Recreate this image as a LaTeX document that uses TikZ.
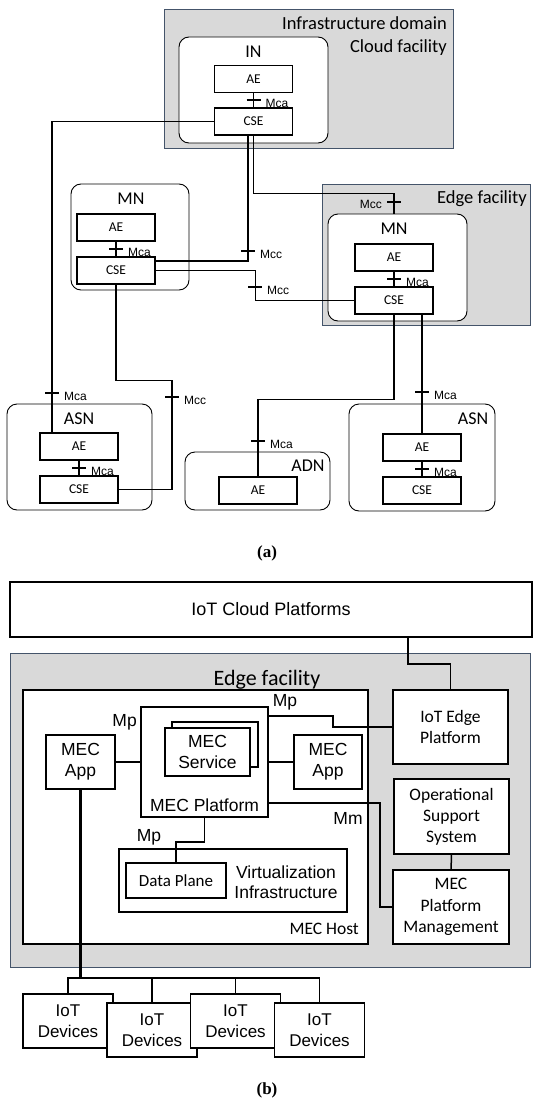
\documentclass[tikz,border=0pt]{standalone}
\usepackage{fontspec}
\setmainfont{Liberation Serif}
\newfontfamily\calfont{Carlito}
\newfontfamily\arfont{Liberation Sans}
\definecolor{facgray}{HTML}{D9D9D9}
\definecolor{facline}{HTML}{44546A}
\tikzset{
  facility/.style={draw=facline, fill=facgray, line width=0.9pt, inner sep=0},
  m2mnode/.style={draw, fill=white, rounded corners=10pt, line width=0.9pt, inner sep=0},
  ent/.style={draw, fill=white, line width=1.4pt, minimum width=78pt, minimum height=27pt,
    inner sep=0, font=\calfont\fontsize{13.5}{15}\selectfont},
  nname/.style={inner sep=0, font=\calfont\fontsize{18}{21}\selectfont},
  reflbl/.style={inner sep=0, font=\arfont\fontsize{12}{14}\selectfont},
  link/.style={line width=1.2pt},
  mecbox/.style={draw, fill=white, line width=1.8pt, inner sep=0, align=center,
    font=\arfont\fontsize{17.5}{21}\selectfont},
  mgmtbox/.style={mecbox, font=\calfont\fontsize{17.5}{21.5}\selectfont},
  mlink/.style={line width=1.5pt},
  buslink/.style={line width=2.4pt},
  plainlbl/.style={inner sep=0, align=center, font=\arfont\fontsize{17.5}{20}\selectfont},
  sublbl/.style={inner sep=0, font=\bfseries\fontsize{17}{20}\selectfont}
}
% reference point mark: tick across a link, label to the right / left
\newcommand{\mref}[3]{\draw[link] (#1-7,#2) -- (#1+7,#2);
  \node[reflbl, anchor=west] at (#1+12,#2+3) {#3};}
\newcommand{\mrefl}[3]{\draw[link] (#1-7,#2) -- (#1+7,#2);
  \node[reflbl, anchor=east] at (#1-12,#2+2) {#3};}

\begin{document}
\begin{tikzpicture}[x=1pt, y=-1pt]
  \useasboundingbox (0,0) rectangle (534,1108);

  %% (a) oneM2M nodes
  \node[facility, minimum width=289pt, minimum height=139pt] (infra) at (308.5,78.5) {};
  \node[inner sep=0, anchor=east, align=right, font=\calfont\fontsize{18.5}{23}\selectfont]
    (infralbl) at (447,36) {Infrastructure domain\\Cloud facility};
  \node[m2mnode, minimum width=149pt, minimum height=106pt] (inN) at (253.5,90) {};
  \node[nname] (inlbl) at (253.5,52) {IN};
  \node[ent] (inAE) at (253.5,79) {AE};
  \node[ent] (inCSE) at (253.5,121.5) {CSE};

  \node[m2mnode, minimum width=118pt, minimum height=106pt] (mnL) at (130,237) {};
  \node[nname] (mnLlbl) at (131,199) {MN};
  \node[ent] (mnLAE) at (116,227.5) {AE};
  \node[ent] (mnLCSE) at (116,270.5) {CSE};

  \node[facility, minimum width=208pt, minimum height=141pt] (edgeA) at (426,254.5) {};
  \node[inner sep=0, anchor=east, font=\calfont\fontsize{18.5}{22}\selectfont]
    (edgeAlbl) at (527,199) {Edge facility};
  \node[m2mnode, minimum width=139pt, minimum height=107pt] (mnR) at (397.5,267.5) {};
  \node[nname] (mnRlbl) at (394,229) {MN};
  \node[ent] (mnRAE) at (394,257.5) {AE};
  \node[ent] (mnRCSE) at (394,300.5) {CSE};

  \node[m2mnode, minimum width=145pt, minimum height=106pt] (asnL) at (79.5,457) {};
  \node[nname] (asnLlbl) at (79,419) {ASN};
  \node[ent] (asnLAE) at (79,446.5) {AE};
  \node[ent] (asnLCSE) at (79,489.5) {CSE};

  \node[m2mnode, minimum width=145pt, minimum height=58pt] (adn) at (257.5,481) {};
  \node[nname] (adnlbl) at (308,466) {ADN};
  \node[ent] (adnAE) at (258,490.5) {AE};

  \node[m2mnode, minimum width=146pt, minimum height=107pt] (asnR) at (422,457.5) {};
  \node[nname] (asnRlbl) at (473,419) {ASN};
  \node[ent] (asnRAE) at (422,447.5) {AE};
  \node[ent] (asnRCSE) at (422,490.5) {CSE};

  % Mca inside the nodes
  \foreach \n in {in,mnL,mnR,asnL,asnR}
    \draw[link] (\n AE) -- (\n CSE);
  \mref{253.5}{100}{Mca}
  \mref{116}{249}{Mca}
  \mref{394}{279}{Mca}
  \mref{79}{468}{Mca}
  \mref{422}{469}{Mca}

  % links between the nodes
  \draw[link] (inCSE.west) -| ([xshift=-27pt]asnLAE.north);
  \mref{52}{393}{Mca}
  \draw[link] ([xshift=-5.5pt]inCSE.south) |- ([yshift=9.5pt]mnLCSE.east);
  \mref{248}{251}{Mcc}
  \draw[link] (inCSE.south) -- ++(0,58) -| (mnR.north -| mnRAE.north);
  \mrefl{394}{202}{Mcc}
  \draw[link] (mnLCSE.east) -- ++(100,0) |- (mnRCSE.west);
  \mref{255}{287}{Mcc}
  \draw[link] (mnLCSE.south) -- ++(0,96) -- ++(56,0) |- (asnLCSE.east);
  \mref{172}{397}{Mcc}
  \draw[link] (mnRCSE.south) -- ++(0,85) -| (adnAE.north);
  \mref{258}{441}{Mca}
  \draw[link] ([xshift=28pt]mnRCSE.south) -- (asnRAE.north);
  \mref{422}{392}{Mca}

  \node[sublbl] (capa) at (267,553) {(a)};

  %% (b) MEC deployment
  \node[mecbox, minimum width=522pt, minimum height=55pt, font=\arfont\fontsize{18}{21}\selectfont]
    (cloud) at (271,609.5) {IoT Cloud Platforms};
  \node[facility, minimum width=520pt, minimum height=314pt] (edgeB) at (270,810) {};
  \node[inner sep=0, font=\calfont\fontsize{22}{26}\selectfont] (edgeBlbl) at (267,680) {Edge facility};

  \node[mecbox, minimum width=345pt, minimum height=254pt] (host) at (195.5,817) {};
  \node[inner sep=0, anchor=east, font=\calfont\fontsize{17.5}{21}\selectfont] (hostlbl) at (359,929) {MEC Host};
  \node[mecbox, minimum width=127pt, minimum height=110pt] (mecPf) at (204.5,762) {};
  \node[plainlbl] (mecPflbl) at (204.5,805) {MEC Platform};
  \node[mecbox, minimum width=86pt, minimum height=45pt] (svcback) at (215,744.5) {};
  \node[mecbox, minimum width=85pt, minimum height=48pt] (svc) at (207.5,752) {MEC\\Service};
  \node[mecbox, minimum width=69pt, minimum height=54pt] (appL) at (80.5,762) {MEC\\App};
  \node[mecbox, minimum width=68pt, minimum height=54pt] (appR) at (328,762) {MEC\\App};
  \node[mecbox, minimum width=228pt, minimum height=63pt] (virt) at (233,880.5) {};
  \node[plainlbl] (virtlbl) at (286,882) {Virtualization\\Infrastructure};
  \node[mgmtbox, minimum width=100pt, minimum height=35pt, font=\calfont\fontsize{17}{20}\selectfont]
    (dplane) at (176,880.5) {Data Plane};

  \node[mgmtbox, minimum width=115pt, minimum height=74pt] (iotEdge) at (450.5,727) {IoT Edge\\Platform};
  \node[mgmtbox, minimum width=115pt, minimum height=75pt, font=\calfont\fontsize{17.5}{21}\selectfont]
    (oss) at (451.5,816.5) {Operational\\Support\\System};
  \node[mgmtbox, minimum width=116pt, minimum height=74pt] (mpm) at (451,907) {MEC\\Platform\\Management};

  \draw[mlink] ([xshift=137pt]cloud.south) -- ++(0,26) -| (iotEdge.north);
  \draw[mlink] (appL.east) -- (mecPf.west);
  \draw[mlink] (mecPf.east) -- (appR.west);
  \draw[mlink] ([yshift=46pt]mecPf.east) -- ++(64,0) |- (iotEdge.west);
  \draw[mlink] ([yshift=-41pt]mecPf.east) -- ++(111,0) |- (mpm.west);
  \draw[mlink] (mecPf.south) -- ++(0,24) -| (dplane.north);
  \draw[mlink] (oss) -- (mpm);
  \node[plainlbl, anchor=east] (mp1) at (137,722) {Mp};
  \node[plainlbl] (mp2) at (285,702) {Mp};
  \node[plainlbl] (mm) at (348,818) {Mm};
  \node[plainlbl] (mp3) at (149,837) {Mp};

  % IoT devices under the edge
  \foreach \i/\x/\y in {1/68/1021, 2/152/1030, 3/235.5/1021, 4/319.5/1030}
    \node[mecbox, minimum width=90pt, minimum height=54pt, font=\arfont\fontsize{17}{21}\selectfont]
      (dev\i) at (\x,\y) {IoT\\Devices};
  \draw[mlink] (dev1.north) -- ++(0,-15) coordinate (busL) -| (dev4.north);
  \draw[mlink] (dev2.north) -- (dev2.north |- busL);
  \draw[mlink] (dev3.north) -- (dev3.north |- busL);
  \draw[buslink] (appL.south) -- (appL.south |- busL);
  \draw[buslink] (busL) -- (dev4.north |- busL);

  \node[sublbl] (capb) at (267,1090) {(b)};
\end{tikzpicture}
\end{document}
